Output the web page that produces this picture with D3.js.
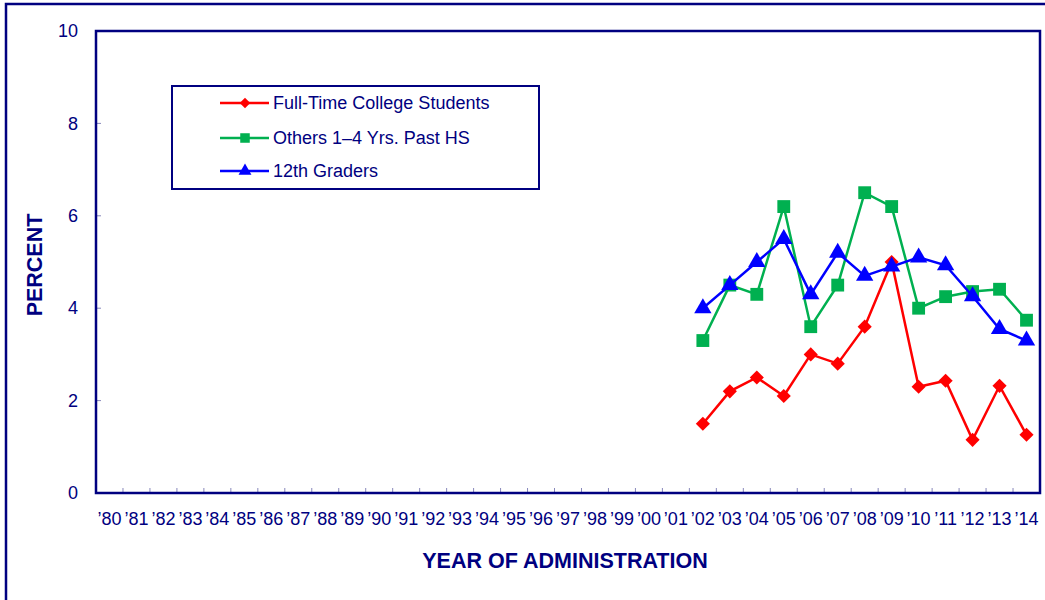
<!DOCTYPE html>
<html><head><meta charset="utf-8">
<script src="https://cdn.jsdelivr.net/npm/d3@7"></script>
<style>body{margin:0;background:#fff}svg{display:block;font-family:"Liberation Sans",Arial,sans-serif}</style>
</head><body><svg id="c" width="1045" height="600"></svg>
<script>
const years = ["\u201980","\u201981","\u201982","\u201983","\u201984","\u201985","\u201986","\u201987","\u201988","\u201989","\u201990","\u201991","\u201992","\u201993","\u201994","\u201995","\u201996","\u201997","\u201998","\u201999","\u201900","\u201901","\u201902","\u201903","\u201904","\u201905","\u201906","\u201907","\u201908","\u201909","\u201910","\u201911","\u201912","\u201913","\u201914"];
const dataYears = ["\u201902","\u201903","\u201904","\u201905","\u201906","\u201907","\u201908","\u201909","\u201910","\u201911","\u201912","\u201913","\u201914"];
const collegeValues = [1.5,2.2,2.5,2.1,3.0,2.8,3.6,5.0,2.3,2.43,1.15,2.32,1.26];
const othersValues = [3.3,4.5,4.3,6.2,3.6,4.5,6.5,6.2,4.0,4.25,4.36,4.41,3.74];
const graderValues = [4.0,4.5,5.0,5.5,4.3,5.2,4.7,4.9,5.1,4.93,4.26,3.55,3.3];
const yTicks = [0,2,4,6,8,10];
const seriesNames = ["Full-Time College Students","Others 1\u20134 Yrs. Past HS","12th Graders"];

const navy = "#000080";
const svg = d3.select("#c");
const L = 96, R = 1040, T = 31, B = 493;

// outer frame
svg.append("rect").attr("x",6).attr("y",4).attr("width",1100).attr("height",700)
  .attr("fill","none").attr("stroke",navy).attr("stroke-width",2.5);

const x = d3.scaleBand().domain(years).range([L,R]).padding(0);
const y = d3.scaleLinear().domain([0,10]).range([B,T]);

// y axis tick labels
const yAxis = d3.axisLeft(y).tickValues(yTicks).tickSize(0).tickPadding(18);
const gy = svg.append("g").attr("transform",`translate(${L},0)`).call(yAxis);
gy.select(".domain").remove();
gy.selectAll("text").attr("fill",navy).attr("font-size",18).attr("font-family","Liberation Sans, Arial, sans-serif");
// inward y ticks
svg.append("g").selectAll("line").data(yTicks.slice(1,-1)).join("line")
  .attr("x1",L).attr("x2",L+5).attr("y1",d=>y(d)).attr("y2",d=>y(d))
  .attr("stroke","#8888bb").attr("stroke-width",1);

// x axis labels
const xAxis = d3.axisBottom(x).tickSize(0).tickPadding(19);
const gx = svg.append("g").attr("transform",`translate(0,${B})`).call(xAxis);
gx.select(".domain").remove();
gx.selectAll("text").attr("fill",navy).attr("font-size",18).attr("font-family","Liberation Sans, Arial, sans-serif");
// inward x ticks at band boundaries
svg.append("g").selectAll("line").data(years.slice(1)).join("line")
  .attr("x1",d=>x(d)).attr("x2",d=>x(d)).attr("y1",B).attr("y2",B-5)
  .attr("stroke","#8888bb").attr("stroke-width",1);

// plot frame
svg.append("rect").attr("x",L).attr("y",T).attr("width",R-L).attr("height",B-T)
  .attr("fill","none").attr("stroke",navy).attr("stroke-width",2.5);

// titles
svg.append("text").attr("transform",`translate(42,${(T+B)/2+3}) rotate(-90)`)
  .attr("text-anchor","middle").attr("font-weight","bold").attr("font-size",21.5).attr("fill",navy).text("PERCENT");
svg.append("text").attr("x",565).attr("y",568).attr("text-anchor","middle")
  .attr("font-weight","bold").attr("font-size",21.5).attr("fill",navy).text("YEAR OF ADMINISTRATION");

const series = [
  {name:seriesNames[0], vals:collegeValues, color:"#ff0000", sym:d3.symbolSquare, size:100, rot:45},
  {name:seriesNames[1], vals:othersValues, color:"#00b050", sym:d3.symbolSquare, size:165, rot:0},
  {name:seriesNames[2], vals:graderValues, color:"#0000ff", sym:d3.symbolTriangle, size:130, rot:0}
];
const line = d3.line().x(d=>x(d.yr)+x.bandwidth()/2).y(d=>y(d.v));
series.forEach(s=>{
  const pts = dataYears.map((yr,i)=>({yr,v:s.vals[i]}));
  svg.append("path").datum(pts).attr("d",line).attr("fill","none").attr("stroke",s.color).attr("stroke-width",2.5);
  svg.append("g").selectAll("path").data(pts).join("path")
    .attr("d",d3.symbol().type(s.sym).size(s.size))
    .attr("transform",d=>`translate(${x(d.yr)+x.bandwidth()/2},${y(d.v)}) rotate(${s.rot})`)
    .attr("fill",s.color);
});

// legend
const lg = svg.append("g");
lg.append("rect").attr("x",172).attr("y",86).attr("width",367).attr("height",103)
  .attr("fill","#fff").attr("stroke",navy).attr("stroke-width",2);
const rowY = [103,138,171];
series.forEach((s,i)=>{
  lg.append("line").attr("x1",220).attr("x2",269).attr("y1",rowY[i]).attr("y2",rowY[i]).attr("stroke",s.color).attr("stroke-width",2.5);
  lg.append("path").attr("d",d3.symbol().type(s.sym).size(s.size*0.55)).attr("transform",`translate(245,${rowY[i]}) rotate(${s.rot})`).attr("fill",s.color);
  lg.append("text").attr("x",273).attr("y",rowY[i]+6).attr("font-size",18).attr("fill",navy).text(s.name);
});
</script></body></html>
